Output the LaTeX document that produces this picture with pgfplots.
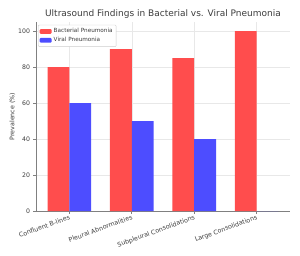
\documentclass[border=0pt]{standalone}
\usepackage{pgfplots}
\pgfplotsset{compat=1.18}
\usepackage{fontspec}
\setmainfont{DejaVu Sans}
\definecolor{bred}{RGB}{255,77,77}
\definecolor{vblue}{RGB}{77,77,255}
\definecolor{txt}{RGB}{60,60,60}
\begin{document}
\begin{tikzpicture}
\useasboundingbox (-36pt,-44pt) rectangle (264pt,211pt);
\begin{axis}[
  at={(0,0)}, anchor=south west,
  scale only axis, width=254pt, height=189pt,
  xmin=-0.535, xmax=3.535, ymin=0, ymax=105,
  ybar=0pt, bar width=0.35,
  axis x line*=bottom, axis y line*=left,
  axis line style={gray, line width=0.8pt},
  tick align=outside, major tick length=2.5pt,
  tick style={gray, line width=0.6pt},
  xtick={0,1,2,3},
  xticklabels={Confluent B-lines,Pleural Abnormalities,Subpleural Consolidations,Large Consolidations},
  xticklabel style={rotate=20, anchor=north east, font=\fontsize{6.3}{7}\selectfont, text=txt, inner sep=0.8pt},
  ytick={0,20,40,60,80,100},
  yticklabel style={font=\fontsize{6.2}{7}\selectfont, text=txt},
  /pgf/number format/assume math mode=true,
  grid=major, major grid style={gray!18, line width=0.5pt},
  ylabel={Prevalence (\%)},
  ylabel style={font=\fontsize{6.3}{7}\selectfont, text=txt, yshift=-4pt},
  title={Ultrasound Findings in Bacterial vs. Viral Pneumonia},
  title style={font=\fontsize{9}{10}\selectfont, text=txt, yshift=-6pt},
  legend style={at={(0.008,0.985)}, anchor=north west, draw=gray!40, rounded corners=1pt, fill=white, font=\fontsize{5.7}{6.5}\selectfont, text=txt, row sep=-1pt, inner sep=1.5pt},
  legend cell align=left,
  legend image code/.code={\fill[#1] (0pt,-2.3pt) rectangle (12pt,2.3pt);},
]
\addplot[fill=bred, draw=none] coordinates {(0,80) (1,90) (2,85) (3,100)};
\addlegendentry{Bacterial Pneumonia}
\addplot[fill=vblue, draw=none] coordinates {(0,60) (1,50) (2,40) (3,0)};
\addlegendentry{Viral Pneumonia}
\end{axis}
\end{tikzpicture}
\end{document}
